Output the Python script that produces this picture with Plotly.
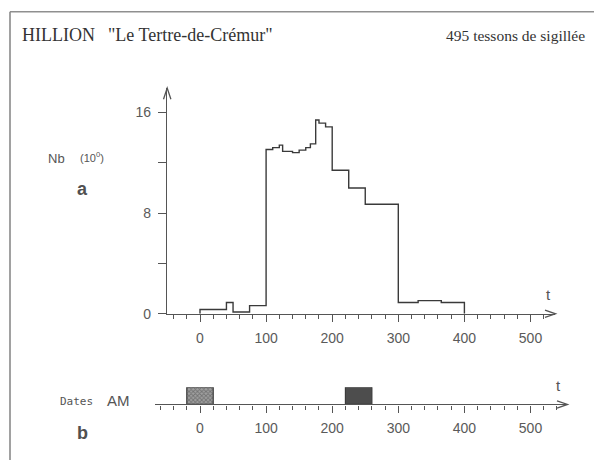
import plotly.graph_objects as go

OFF = 0
W, H = 594, 468

# ---- data ----
t_edges = [0, 40, 50, 75, 100, 110, 120, 125, 140, 150, 160, 167, 175, 180,
           190, 200, 225, 250, 300, 330, 365, 400]
nb_values = [0.35, 0.9, 0.15, 0.65, 13.05, 13.2, 13.4, 12.9, 12.8, 13.0, 13.2,
             13.5, 15.4, 15.15, 14.85, 11.4, 10.0, 8.7, 0.9, 1.05, 0.9]

am_start = [-20, 220]
am_end = [20, 260]

x_major = [0, 100, 200, 300, 400, 500]
x_labels = ["0", "100", "200", "300", "400", "500"]
y_ticks = [0, 4, 8, 12, 16]
y_labels = ["0", "", "8", "", "16"]

AX = "#555555"
TXT = "#555555"
TICKFONT = dict(family="Liberation Sans Narrow, Liberation Sans, sans-serif", size=14, color="#5a5a5a")


def px(x):
    return (x - OFF) / W


def py(y):
    return 1 - (y - OFF) / H


step_x = [t_edges[0]] + t_edges
step_y = [0] + nb_values + [0]

fig = go.Figure()
fig.add_trace(go.Scatter(x=step_x, y=step_y, mode="lines", line_shape="hv",
                         line=dict(color="#3a3a3a", width=1.4),
                         xaxis="x", yaxis="y", hoverinfo="skip", showlegend=False))

centers = [(a + b) / 2 for a, b in zip(am_start, am_end)]
widths = [b - a for a, b in zip(am_start, am_end)]
fig.add_trace(go.Bar(x=centers, y=[1, 1], width=widths, base=0,
                     xaxis="x2", yaxis="y2", showlegend=False, hoverinfo="skip",
                     marker=dict(color=["#a0a0a0", "#4d4d4d"],
                                 line=dict(color="#3a3a3a", width=1.2),
                                 pattern=dict(shape=["x", ""], fgcolor=["#3a3a3a", "#4d4d4d"],
                                              bgcolor=["#c8c8c8", "#4d4d4d"],
                                              size=3, solidity=0.5, fillmode="overlay"))))

axis_common = dict(showgrid=False, zeroline=False, showline=True, linecolor=AX, linewidth=1.3,
                   ticks="outside", tickcolor=AX, tickwidth=1.2, tickfont=TICKFONT)

x_top_range = [-50, 537]
x_bot_range = [-68, 555]
scale = 0.661  # px per year


def dom(r):
    return [px(200 + scale * r[0]), px(200 + scale * r[1])]


fig.update_layout(
    width=W, height=H, autosize=False,
    margin=dict(l=0, r=0, t=0, b=0),
    paper_bgcolor="white", plot_bgcolor="rgba(0,0,0,0)",
    xaxis=dict(axis_common, range=x_top_range, domain=dom(x_top_range), anchor="y",
               tickvals=x_major, ticktext=x_labels, ticklen=7, ticklabelstandoff=4,
               minor=dict(dtick=20, tick0=0, ticks="outside", ticklen=4, tickcolor=AX, tickwidth=1.2)),
    yaxis=dict(axis_common, range=[0, 17.9], domain=[py(319.3), py(90)], anchor="x",
               tickvals=y_ticks, ticktext=y_labels, ticklen=8, ticklabelstandoff=4),
    xaxis2=dict(axis_common, range=x_bot_range, domain=dom(x_bot_range), anchor="y2",
                tickvals=x_major, ticktext=x_labels, ticklen=7, ticklabelstandoff=4,
                minor=dict(dtick=20, tick0=0, ticks="outside", ticklen=4, tickcolor=AX, tickwidth=1.2)),
    yaxis2=dict(range=[0, 1], domain=[py(411.5), py(394)], anchor="x2", visible=False,
                showgrid=False, zeroline=False),
)

shapes = []
# scanned page frame (top and left edges)
shapes.append(dict(type="line", xref="paper", yref="paper", x0=px(10), y0=py(12), x1=1, y1=py(12),
                   line=dict(color="#8f8f8f", width=1.6)))
shapes.append(dict(type="line", xref="paper", yref="paper", x0=px(10), y0=py(12), x1=px(10), y1=0,
                   line=dict(color="#8a8a8a", width=1.6)))


def arrow(pts):
    p = "M " + " L ".join(f"{px(a):.5f},{py(b):.5f}" for a, b in pts)
    return dict(type="path", xref="paper", yref="paper", path=p, line=dict(color=AX, width=1.3))


shapes.append(arrow([(545, 315.6), (555.5, 319.3), (545, 323)]))
shapes.append(arrow([(163.5, 101), (167.2, 89.5), (170.9, 101)]))
shapes.append(arrow([(557, 407.8), (567.5, 411.5), (557, 415.2)]))
fig.update_layout(shapes=shapes)

SERIF = "Liberation Serif, Times New Roman, serif"
SANS = "Liberation Sans Narrow, Liberation Sans, sans-serif"


def txt(x, y, s, size, font=SANS, color=TXT, xanchor="left", bold=False):
    if bold:
        s = f"<b>{s}</b>"
    fig.add_annotation(x=px(x), y=py(y), xref="paper", yref="paper", text=s, showarrow=False,
                       xanchor=xanchor, yanchor="middle", borderpad=0,
                       font=dict(family=font, size=size, color=color))


txt(21, 36, "HILLION", 18, SERIF, "#333333")
txt(107, 36, "\"Le Tertre-de-Crémur\"", 18, SERIF, "#333333")
txt(586, 36, "495 tessons de sigillée", 15.5, SERIF, "#333333", xanchor="right")

txt(47, 161, "Nb", 13)
txt(79, 160, "(10<sup>0</sup>)", 11)
txt(76, 192, "a", 18, "Liberation Sans, sans-serif", "#505050", bold=True)
txt(545, 300, "t", 15)

txt(59, 408, "Dates", 11, "DejaVu Sans Mono, monospace")
txt(106, 407, "AM", 15)
txt(76, 441, "b", 18, "Liberation Sans, sans-serif", "#505050", bold=True)
txt(555, 392, "t", 15)

fig.write_html("out.html", config={"displayModeBar": False},
               post_script="document.body.style.margin='0';")
